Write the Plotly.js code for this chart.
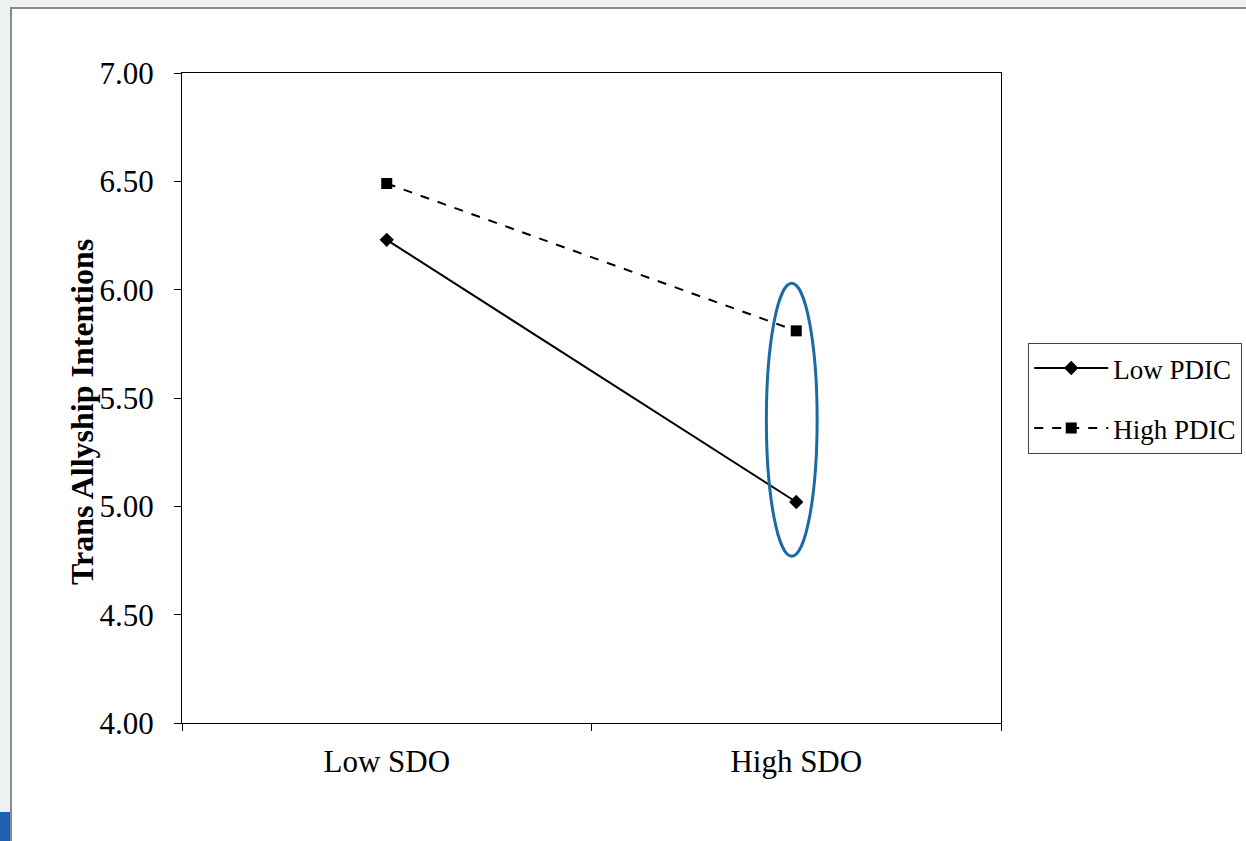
<!DOCTYPE html>
<html>
<head>
<meta charset="utf-8">
<script src="https://cdn.plot.ly/plotly-3.0.1.min.js"></script>
<style>
  html, body { margin: 0; padding: 0; width: 1246px; height: 841px; overflow: hidden; background: #eef1f1; }
  #frame { position: absolute; left: 10px; top: 7px; width: 1250px; height: 850px; background: #ffffff; border: 2px solid #8a8a8a; box-sizing: border-box; }
  #tab { position: absolute; left: 0px; top: 812px; width: 10px; height: 29px; background: #1f5fb4; }
  #chart { position: absolute; left: 0; top: 0; width: 1246px; height: 841px; }
</style>
</head>
<body>
<div id="frame"></div>
<div id="tab"></div>
<div id="chart"></div>
<script>
// Data
var categories = ["Low SDO", "High SDO"];
var lowPDIC = [6.23, 5.02];
var highPDIC = [6.49, 5.81];
var seriesNames = ["Low PDIC", "High PDIC"];
var yTickVals = [4.0, 4.5, 5.0, 5.5, 6.0, 6.5, 7.0];
var yTitle = "Trans Allyship Intentions";
// Highlight ellipse around the High SDO values (category index, y values)
var ellipseX = [0.927, 1.051];
var ellipseY = [4.77, 6.03];

var serif = "Liberation Serif, Times New Roman, serif";

var traces = [
  {
    x: categories, y: lowPDIC, name: seriesNames[0], type: "scatter", mode: "lines+markers",
    legendgroup: "a",
    line: { color: "#000000", width: 2, dash: "solid" },
    marker: { symbol: "diamond", size: 11, color: "#000000" }
  },
  {
    x: categories, y: highPDIC, name: seriesNames[1], type: "scatter", mode: "lines+markers",
    legendgroup: "b",
    line: { color: "#000000", width: 2, dash: "dash" },
    marker: { symbol: "square", size: 11, color: "#000000" }
  }
];

var layout = {
  width: 1246, height: 841,
  paper_bgcolor: "rgba(0,0,0,0)",
  plot_bgcolor: "#ffffff",
  margin: { l: 182, r: 245, t: 73, b: 118, autoexpand: false },
  font: { family: serif, color: "#000000" },
  showlegend: true,
  legend: {
    x: 1.033, y: 0.585, xanchor: "left", yanchor: "top",
    bordercolor: "#444444", borderwidth: 1.2, bgcolor: "#ffffff",
    font: { family: serif, size: 27, color: "#000000" },
    traceorder: "grouped", tracegroupgap: 22, itemwidth: 74
  },
  xaxis: {
    type: "category", range: [-0.5, 1.5],
    tickson: "boundaries", ticks: "outside", ticklen: 7, tickcolor: "#000000", tickwidth: 1,
    showline: true, linecolor: "#000000", linewidth: 1, mirror: true,
    showgrid: false, zeroline: false,
    tickfont: { family: serif, size: 31, color: "#000000" },
    ticklabelstandoff: 11
  },
  yaxis: {
    range: [4, 7], tickvals: yTickVals, tickformat: ".2f",
    ticks: "outside", ticklen: 7, tickcolor: "#000000", tickwidth: 1,
    showline: true, linecolor: "#000000", linewidth: 1, mirror: true,
    showgrid: false, zeroline: false,
    tickfont: { family: serif, size: 31, color: "#000000" },
    ticklabelstandoff: 14
  },
  annotations: [
    {
      text: "<b>" + yTitle + "</b>", textangle: -90,
      xref: "paper", yref: "paper", x: (82 - 182) / 819, y: (723 - 412) / 650,
      xanchor: "center", yanchor: "middle", showarrow: false,
      font: { family: serif, size: 32, color: "#000000" }
    }
  ],
  shapes: [
    {
      type: "circle", xref: "x", yref: "y",
      x0: ellipseX[0], x1: ellipseX[1], y0: ellipseY[0], y1: ellipseY[1],
      line: { color: "#1a6aa3", width: 3 }, layer: "above"
    }
  ]
};

Plotly.newPlot("chart", traces, layout, { staticPlot: true, displayModeBar: false });
</script>
</body>
</html>
